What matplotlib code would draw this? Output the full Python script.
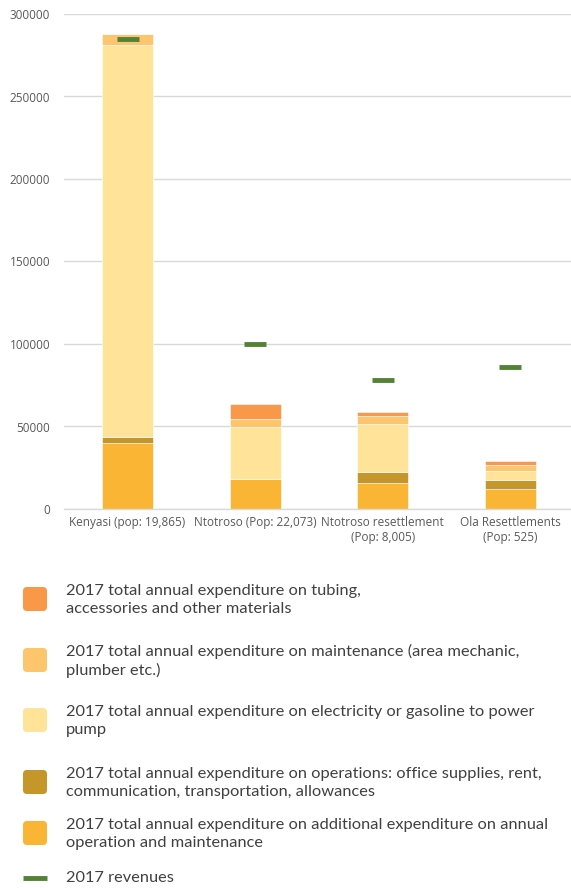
import matplotlib
matplotlib.use("Agg")
import matplotlib.pyplot as plt
from matplotlib.patches import FancyBboxPatch
import numpy as np

sites = [
    "Kenyasi (pop: 19,865)",
    "Ntotroso (Pop: 22,073)",
    "Ntotroso resettlement\n(Pop: 8,005)",
    "Ola Resettlements\n(Pop: 525)",
]

# stacked expenditure components, bottom to top
additional_om = [39700, 18400, 15600, 12000]
operations = [4200, 0, 6900, 5400]
electricity = [237100, 31000, 29100, 5700]
maintenance = [6800, 5400, 4900, 3600]
tubing = [0, 9000, 2400, 2600]
revenues = [285000, 100000, 78000, 86000]

series = [
    ("2017 total annual expenditure on additional expenditure on annual\noperation and maintenance",
     additional_om, "#FBB535"),
    ("2017 total annual expenditure on operations: office supplies, rent,\ncommunication, transportation, allowances",
     operations, "#C5962A"),
    ("2017 total annual expenditure on electricity or gasoline to power\npump",
     electricity, "#FEE398"),
    ("2017 total annual expenditure on maintenance (area mechanic,\nplumber etc.)",
     maintenance, "#FDC66D"),
    ("2017 total annual expenditure on tubing,\naccessories and other materials",
     tubing, "#F89848"),
]
revenue_label = "2017 revenues"
revenue_color = "#548235"

fig = plt.figure(figsize=(5.71, 8.88), dpi=100)
ax = fig.add_axes([64 / 571, 1 - 509 / 888, 507 / 571, 495 / 888])

x = np.arange(len(sites))
bottom = np.zeros(len(sites))
for label, vals, color in series:
    ax.bar(x, vals, 0.4, bottom=bottom, color=color, edgecolor="white",
           linewidth=0.4, zorder=2)
    bottom += np.array(vals)

ax.plot(x, revenues, linestyle="none", marker="_", markersize=16,
        markeredgewidth=3.5, color=revenue_color, zorder=3)

ax.set_xlim(-0.498, 3.476)
ax.set_ylim(0, 300000)
ax.set_yticks(np.arange(0, 300001, 50000))
ax.set_xticks(x)
ax.set_xticklabels(sites)
ax.yaxis.grid(True, color="#D9D9D9", linewidth=1.0, zorder=0)
ax.set_axisbelow(True)
for side in ["top", "right", "left"]:
    ax.spines[side].set_visible(False)
ax.spines["bottom"].set_color("#D9D9D9")
ax.spines["bottom"].set_linewidth(1.0)
ax.tick_params(axis="both", length=0, labelsize=8.5, labelcolor="#595959")
ax.tick_params(axis="y", pad=10)
ax.tick_params(axis="x", pad=5)
for t in ax.get_xticklabels() + ax.get_yticklabels():
    t.set_fontfamily("Open Sans")

# legend drawn by hand in pixel coordinates
lg = fig.add_axes([0, 0, 1, 1], zorder=-1)
lg.set_xlim(0, 571)
lg.set_ylim(888, 0)
lg.axis("off")

centers = [833, 782, 720, 660, 599]
for (label, vals, color), cy in zip(series, centers):
    lg.add_patch(FancyBboxPatch((24, cy - 11), 22, 22,
                                boxstyle="round,pad=1,rounding_size=4",
                                facecolor=color, edgecolor="none"))
    lg.text(66, cy + 1, label, fontsize=11.8, family="Lato", color="#404040",
            va="center", ha="left", linespacing=1.35)

lg.plot([23, 47], [878, 878], color=revenue_color, linewidth=3.5,
        solid_capstyle="butt")
lg.text(66, 878, revenue_label, fontsize=11.8, family="Lato", color="#404040",
        va="center", ha="left")

fig.savefig("out.png", dpi=100)
